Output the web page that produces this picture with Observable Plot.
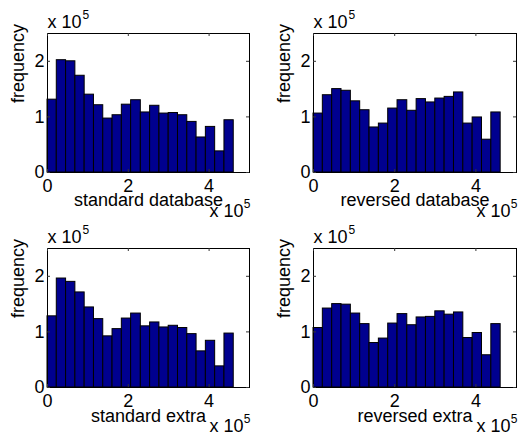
<!DOCTYPE html>
<html><head><meta charset="utf-8">
<script src="https://cdn.jsdelivr.net/npm/d3@7"></script>
<script src="https://cdn.jsdelivr.net/npm/@observablehq/plot@0.6"></script>
<style>
body{margin:0;background:#fff;}
#wrap{position:relative;width:518px;height:434px;overflow:hidden;background:#fff}
#wrap svg{position:absolute;overflow:visible}
</style></head><body><div id="wrap"></div>
<script>
// values in units of 1e5
const binEdges = [0, 0.23, 0.46, 0.69, 0.92, 1.15, 1.38, 1.61, 1.84, 2.07, 2.31, 2.54, 2.77, 3.00, 3.23, 3.46, 3.69, 3.92, 4.15, 4.38, 4.61];
const stdDatabase = [1.31, 2.02, 2.00, 1.74, 1.40, 1.21, 0.97, 1.03, 1.22, 1.30, 1.08, 1.20, 1.06, 1.07, 1.03, 0.91, 0.63, 0.82, 0.38, 0.94];
const revDatabase = [1.06, 1.39, 1.50, 1.47, 1.28, 1.12, 0.81, 0.88, 1.15, 1.30, 1.11, 1.32, 1.26, 1.33, 1.36, 1.44, 0.88, 0.99, 0.59, 1.08];
const stdExtra = [1.28, 1.96, 1.90, 1.71, 1.44, 1.23, 0.92, 1.05, 1.24, 1.33, 1.10, 1.17, 1.08, 1.11, 1.07, 0.96, 0.65, 0.84, 0.38, 0.97];
const revExtra = [1.07, 1.42, 1.50, 1.49, 1.33, 1.14, 0.80, 0.88, 1.15, 1.32, 1.12, 1.26, 1.27, 1.37, 1.31, 1.35, 0.89, 0.98, 0.58, 1.14];
const xTicks = [0, 2, 4];
const yTicks = [0, 1, 2];
const panelLabels = ["standard database", "reversed database", "standard extra", "reversed extra"];
const panelValues = [stdDatabase, revDatabase, stdExtra, revExtra];

const FONT = "'Liberation Sans', Arial, Helvetica, sans-serif";
const layout = [
  {left: 0, top: 0, mL: 47, mR: 10, mT: 33, mB: 45, lab: 33},
  {left: 259, top: 0, mL: 54, mR: 2, mT: 33, mB: 45, lab: 33},
  {left: 0, top: 217, mL: 47, mR: 10, mT: 31, mB: 47, lab: 34},
  {left: 259, top: 217, mL: 54, mR: 2, mT: 31, mB: 47, lab: 34}
];
const W = 259, H = 217;
const wrap = document.getElementById("wrap");
panelValues.forEach((vals, k) => {
  const L = layout[k];
  const fw = W - L.mL - L.mR, fh = H - L.mT - L.mB;
  const bins = vals.map((v, i) => ({x1: binEdges[i], x2: binEdges[i + 1], y: v}));
  const chart = Plot.plot({
    width: W, height: H,
    marginLeft: L.mL, marginRight: L.mR, marginTop: L.mT, marginBottom: L.mB,
    x: {domain: [0, 5], axis: null},
    y: {domain: [0, 2.5], axis: null},
    style: {fontFamily: FONT, fontSize: "18px", background: "transparent", color: "black"},
    marks: [
      Plot.rect(bins, {x1: "x1", x2: "x2", y1: d => 0, y2: "y", fill: "#00008f", stroke: "black", strokeWidth: 1}),
      Plot.frame({stroke: "black", strokeWidth: 1}),
      Plot.tickX(xTicks, {x: d => d, insetTop: fh - 3, stroke: "#333"}),
      Plot.tickX(xTicks, {x: d => d, insetBottom: fh - 3, stroke: "#333"}),
      Plot.tickY(yTicks, {y: d => d, insetRight: fw - 3, stroke: "#333"}),
      Plot.tickY(yTicks, {y: d => d, insetLeft: fw - 3, stroke: "#333"}),
      Plot.axisX(xTicks, {tickSize: 0, tickPadding: 7, fontSize: 18, label: null, tickFormat: d => String(d)}),
      Plot.axisY(yTicks, {tickSize: 0, tickPadding: 3, fontSize: 18, label: null, tickFormat: d => String(d)}),
      Plot.text([panelLabels[k]], {text: d => d, frameAnchor: "bottom", lineAnchor: "bottom", dy: L.lab, fontSize: 18}),
      Plot.text(["x 10"], {text: d => d, frameAnchor: "top-left", textAnchor: "start", lineAnchor: "bottom", dy: -6, fontSize: 18}),
      Plot.text(["5"], {text: d => d, frameAnchor: "top-left", textAnchor: "start", lineAnchor: "bottom", dx: 35, dy: -15, fontSize: 12}),
      Plot.text(["x 10"], {text: d => d, frameAnchor: "bottom-right", textAnchor: "end", lineAnchor: "bottom", dx: -6, dy: 44, fontSize: 18}),
      Plot.text(["5"], {text: d => d, frameAnchor: "bottom-right", textAnchor: "end", lineAnchor: "bottom", dx: 1, dy: 35, fontSize: 12}),
      Plot.text(["frequency"], {text: d => d, frameAnchor: "left", rotate: -90, dx: -29, fontSize: 18})
    ]
  });
  chart.style.left = L.left + "px";
  chart.style.top = L.top + "px";
  wrap.appendChild(chart);
});
</script></body></html>
